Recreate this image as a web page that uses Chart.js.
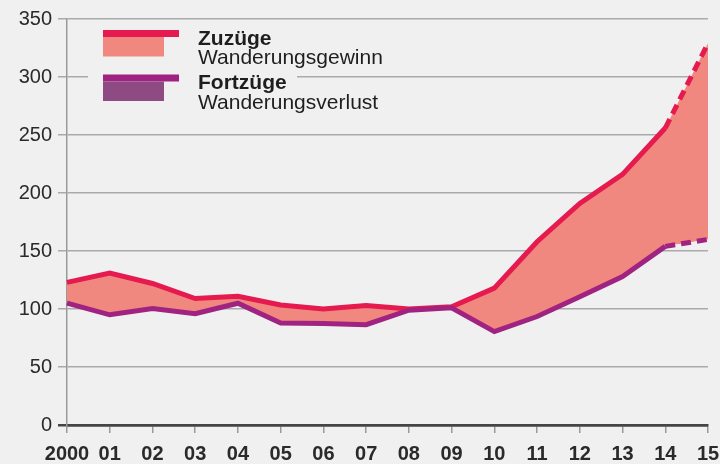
<!DOCTYPE html>
<html>
<head>
<meta charset="utf-8">
<script src="https://cdn.jsdelivr.net/npm/chart.js@4/dist/chart.umd.min.js"></script>
<style>
  html, body { margin: 0; padding: 0; background: #f0f0f0; }
  #wrap { width: 720px; height: 464px; }
</style>
</head>
<body>
<div id="wrap"><canvas id="c" width="720" height="464"></canvas></div>
<script>
// ---- data ----
const years = ['2000','01','02','03','04','05','06','07','08','09','10','11','12','13','14','15'];
const zuzuege = [123, 131, 122, 109, 111, 103.5, 100, 103, 100, 102, 118, 158, 191, 216, 256, 329];
const fortzuege = [105, 95, 100.5, 96, 105, 88, 87.5, 86.5, 99, 101, 80.5, 93.5, 110.5, 128, 154, 160];
const yTicks = [0, 50, 100, 150, 200, 250, 300, 350];
const seriesNames = ['Zuzüge', 'Fortzüge'];
const fillNames = ['Wanderungsgewinn', 'Wanderungsverlust'];
const dashedFromIndex = 14;

const RED = '#e51a4e';
const SALMON = '#f1887f';
const PURPLE = '#a02382';
const MAUVE = '#8e4a82';
const FONT = '"Liberation Sans", Arial, Helvetica, sans-serif';

const dashSeg = { borderDash: ctx => ctx.p0DataIndex >= dashedFromIndex ? [10, 6] : undefined };

const legendPlugin = {
  id: 'customLegend',
  beforeDatasetsDraw(chart) {
    const ctx = chart.ctx;
    ctx.save();
    ctx.fillStyle = '#f0f0f0';
    ctx.fillRect(88, 24, 209, 90);
    const items = [
      { line: RED, fill: SALMON, y: 30 },
      { line: PURPLE, fill: MAUVE, y: 74.5 }
    ];
    items.forEach((it, i) => {
      ctx.fillStyle = it.line;
      ctx.fillRect(103, it.y, 76, 7);
      ctx.fillStyle = it.fill;
      ctx.fillRect(103, it.y + 7, 61, 19.5);
      ctx.fillStyle = '#1e1e1e';
      ctx.textAlign = 'left';
      ctx.textBaseline = 'alphabetic';
      ctx.font = 'bold 21px ' + FONT;
      ctx.fillText(seriesNames[i], 198, it.y + 14.5);
      ctx.font = '21px ' + FONT;
      ctx.fillText(fillNames[i], 198, it.y + 34);
    });
    ctx.restore();
  }
};

new Chart(document.getElementById('c'), {
  type: 'line',
  data: {
    labels: years,
    datasets: [
      {
        label: seriesNames[0],
        data: zuzuege,
        borderColor: RED,
        borderWidth: 5,
        pointRadius: 0,
        tension: 0,
        order: 1,
        fill: false,
        segment: dashSeg
      },
      {
        label: seriesNames[1],
        data: fortzuege,
        borderColor: PURPLE,
        borderWidth: 5,
        pointRadius: 0,
        tension: 0,
        order: 0,
        fill: false,
        segment: dashSeg
      },
      {
        label: fillNames[0],
        data: zuzuege,
        borderWidth: 0,
        borderColor: 'rgba(0,0,0,0)',
        pointRadius: 0,
        tension: 0,
        order: 3,
        fill: { target: 3, above: SALMON, below: 'rgba(0,0,0,0)' }
      },
      {
        label: fillNames[1],
        data: fortzuege,
        borderWidth: 0,
        borderColor: 'rgba(0,0,0,0)',
        pointRadius: 0,
        tension: 0,
        order: 4,
        fill: false
      }
    ]
  },
  options: {
    responsive: false,
    animation: false,
    devicePixelRatio: 1,
    layout: { padding: { top: 19, right: 12, left: 0, bottom: 0 } },
    plugins: {
      legend: { display: false },
      tooltip: { enabled: false },
      filler: { drawTime: 'beforeDatasetsDraw' }
    },
    scales: {
      x: {
        type: 'category',
        offset: false,
        grid: { drawOnChartArea: false, drawTicks: true, tickLength: 8, color: '#999', lineWidth: 1.5 },
        border: { display: true, color: '#444', width: 2.5 },
        ticks: { font: { family: FONT, size: 20, weight: 'bold' }, color: '#2a2a2a', padding: 9, maxRotation: 0, autoSkip: false },
        afterFit: s => { s.height = 39; s.paddingLeft = 0; s.paddingRight = 0; }
      },
      y: {
        min: yTicks[0],
        max: yTicks[yTicks.length - 1],
        afterBuildTicks: s => { s.ticks = yTicks.map(v => ({ value: v })); },
        grid: {
          color: c => (c.tick && c.tick.value === 0) ? '#444' : '#aaa',
          lineWidth: c => (c.tick && c.tick.value === 0) ? 2.5 : 1.5,
          tickLength: 9,
          drawTicks: true
        },
        border: { display: true, color: '#999', width: 1.5 },
        ticks: { font: { family: FONT, size: 20 }, color: '#2a2a2a', padding: 6 },
        afterFit: s => { s.width = 67; s.paddingTop = 0; s.paddingBottom = 0; }
      }
    }
  },
  plugins: [legendPlugin]
});
</script>
</body>
</html>
